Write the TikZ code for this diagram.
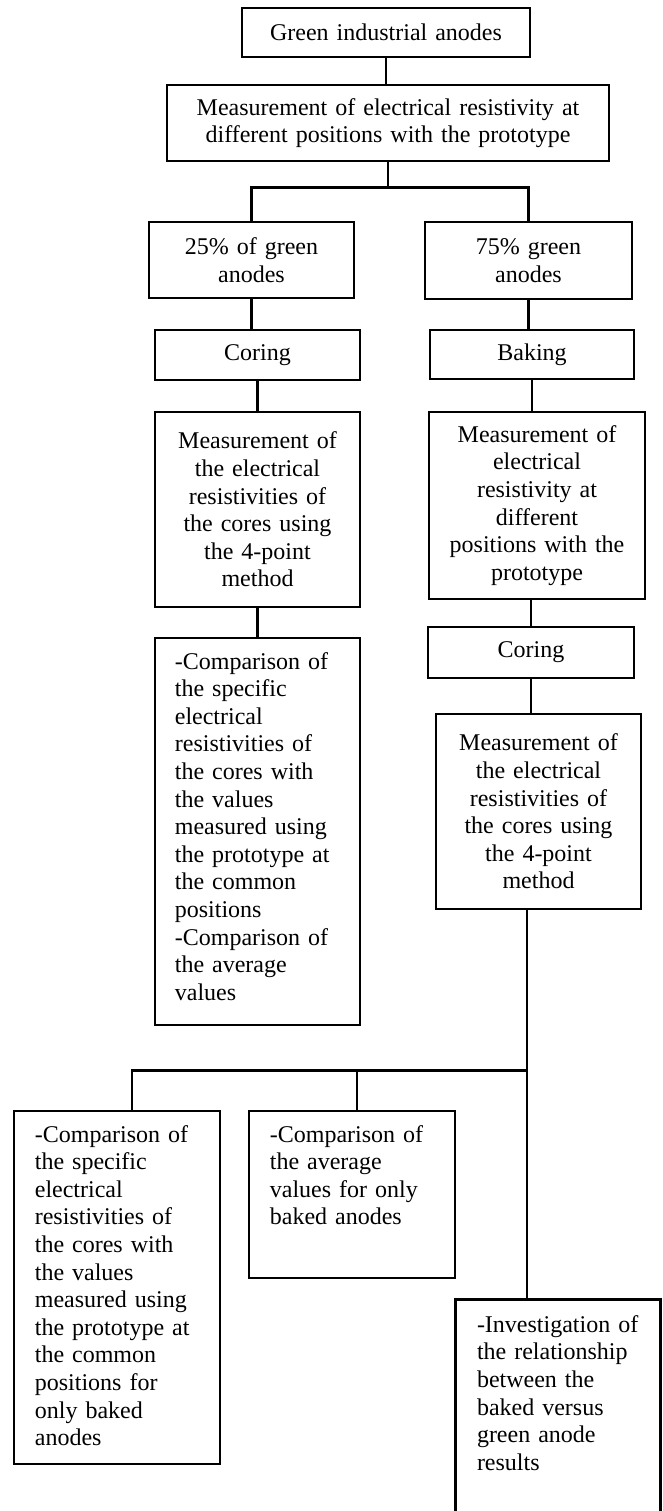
\documentclass[tikz,border=0pt]{standalone}
\usepackage{fontspec}
\setmainfont{Liberation Serif}
\usetikzlibrary{calc}
\tikzset{
  box/.style={draw, line width=2.7pt, inner sep=0pt, align=center,
    font=\fontsize{24}{27.6}\selectfont},
  frame/.style={draw, line width=2.7pt, inner sep=0pt},
  lt/.style={inner sep=0pt, align=left, text width=190pt,
    font=\fontsize{24}{27.6}\selectfont},
  conn/.style={line width=2.7pt},
}
\begin{document}
\begin{tikzpicture}[x=1pt,y=-1pt]
\useasboundingbox (0,0) rectangle (662,1511);

% top
\node[box, minimum width=288pt, minimum height=49pt, text width=270pt] (green) at (386,32.5) {Green industrial anodes};
\node[box, minimum width=442pt, minimum height=76pt, text width=420pt] (meas1) at (388,123) {Measurement of electrical resistivity at\\ different positions with the prototype};

% left column
\node[box, minimum width=205pt, minimum height=76pt, text width=190pt] (p25) at (251.5,260) {25\% of green\\ anodes};
\node[box, minimum width=205pt, minimum height=50pt, text width=190pt] (coringL) at (257.5,355) {Coring};
\node[box, minimum width=205pt, minimum height=195pt, text width=190pt] (measL) at (257.5,509.5) {Measurement of\\ the electrical\\ resistivities of\\ the cores using\\ the 4-point\\ method};
\node[frame, minimum width=205pt, minimum height=387pt] (compL) at (257.5,831.5) {};
\node[lt, anchor=north west] (compLt) at ($(compL.north west)+(21,13)$) {\noindent\strut -Comparison of\\ the specific\\ electrical\\ resistivities of\\ the cores with\\ the values\\ measured using\\ the prototype at\\ the common\\ positions\\ -Comparison of\\ the average\\ values};

% right column
\node[box, minimum width=207pt, minimum height=77pt, text width=190pt] (p75) at (528.5,260.5) {75\% green\\ anodes};
\node[box, minimum width=204pt, minimum height=49pt, text width=190pt] (baking) at (532,354.5) {Baking};
\node[box, minimum width=216pt, minimum height=187pt, text width=200pt] (measR) at (537,505.5) {Measurement of\\ electrical\\ resistivity at\\ different\\ positions with the\\ prototype};
\node[box, minimum width=206pt, minimum height=51pt, text width=190pt] (coringR) at (531,652.5) {Coring};
\node[box, minimum width=205pt, minimum height=195pt, text width=190pt] (measR2) at (538.5,811.5) {Measurement of\\ the electrical\\ resistivities of\\ the cores using\\ the 4-point\\ method};

% bottom row
\node[frame, minimum width=206pt, minimum height=353pt] (compA) at (117,1287.5) {};
\node[lt, anchor=north west] (compAt) at ($(compA.north west)+(22,13)$) {\noindent\strut -Comparison of\\ the specific\\ electrical\\ resistivities of\\ the cores with\\ the values\\ measured using\\ the prototype at\\ the common\\ positions for\\ only baked\\ anodes};
\node[frame, minimum width=206pt, minimum height=167pt] (compB) at (352,1194.5) {};
\node[lt, anchor=north west] (compBt) at ($(compB.north west)+(22,13)$) {\noindent\strut -Comparison of\\ the average\\ values for only\\ baked anodes};
\node[inner sep=0pt, minimum width=204pt, minimum height=215pt] (invest) at (558,1407.5) {};
\draw[conn] (invest.south west) -- (invest.north west) -- (invest.north east) -- (invest.south east);
\node[lt, anchor=north west] (investt) at ($(invest.north west)+(21,13)$) {\noindent\strut -Investigation of\\ the relationship\\ between the\\ baked versus\\ green anode\\ results};

% connectors
\draw[conn] (green.south) -- (green.south |- meas1.north);
\draw[conn] (meas1.south) -- ++(0,25) coordinate (j1);
\draw[conn] (p25.north) |- (j1) -| (p75.north);
\draw[conn] (p25.south) -- (p25.south |- coringL.north);
\draw[conn] (coringL.south) -- (measL.north);
\draw[conn] (measL.south) -- (compL.north);
\draw[conn] (p75.south) -- (p75.south |- baking.north);
\draw[conn] (baking.south) -- (baking.south |- measR.north);
\draw[conn] (coringR.north) -- (coringR.north |- measR.south);
\draw[conn] (coringR.south) -- (coringR.south |- measR2.north);
\coordinate (t0) at ($(measR2.south)+(-11.5,0)$);
\coordinate (bus) at ($(t0)+(0,160)$);
\coordinate (aT) at ($(compA.north)+(15,0)$);
\coordinate (bT) at ($(compB.north)+(5,0)$);
\draw[conn] (t0) -- (t0 |- invest.north);
\draw[conn] (aT) |- (bus);
\draw[conn] (bT) -- (bT |- bus);
\end{tikzpicture}
\end{document}
